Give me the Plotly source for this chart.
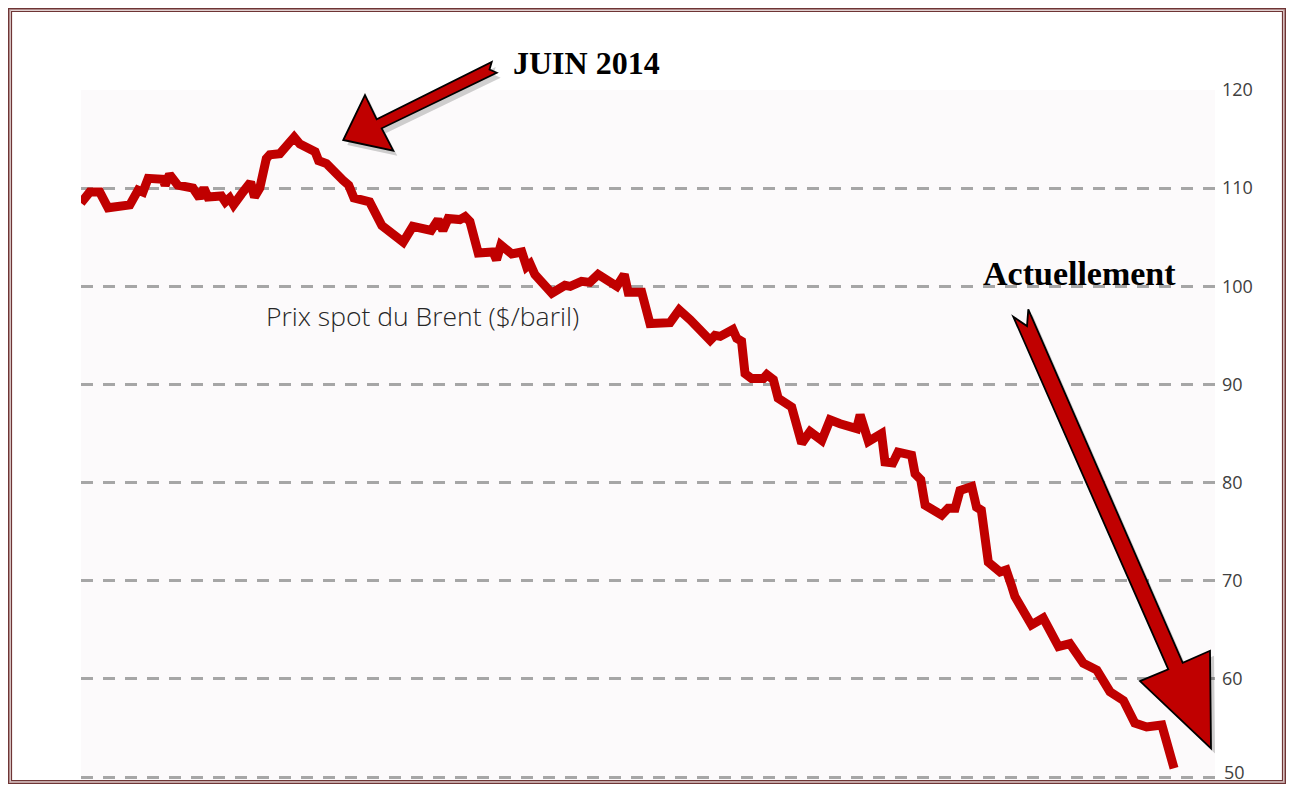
import plotly.graph_objects as go

# Jours depuis le début de la période (≈ 1er mai 2014) et prix spot du Brent ($/baril)
jours = [0, 2.0, 4.3, 6.2, 11.2, 13.1, 14.2, 15.4, 18.8, 19.3, 20.3, 22.2, 25.7, 27.2, 28.2, 29.1,
         32.2, 33.1, 34.1, 35.0, 36.8, 38.9, 39.8, 41.0, 42.5, 43.3, 45.6, 47.5, 48.9, 50.2,
         52.8, 53.7, 54.5, 56.3, 60.1, 61.4, 62.6, 66.2, 69.0, 73.9, 76.1, 80.3, 81.9, 83.0,
         84.2, 86.9, 88.1, 89.2, 91.1, 94.5, 95.3, 96.3, 98.8, 101.1, 102.2, 103.0, 104.1,
         108.0, 111.0, 112.2, 114.8, 116.7, 118.6, 122.9, 124.6, 125.5, 128.6, 130.5, 135.1,
         137.2, 139.7, 144.3, 145.4, 146.6, 149.5, 150.4, 151.5, 152.3, 153.8, 156.5, 157.3,
         158.8, 159.9, 163.0, 165.3, 167.2, 169.9, 171.8, 174.1, 177.9, 178.7, 180.6, 183.6,
         184.4, 186.2, 187.4, 190.5, 191.3, 192.6, 193.6, 197.4, 198.9, 200.5, 201.6, 204.3,
         205.4, 206.5, 208.1, 210.8, 212.2, 213.5, 214.2, 218.0, 220.7, 224.2, 226.8, 229.9,
         233.0, 236.0, 239.1, 241.7, 244.4, 247.9, 250.7]
prix = [108.5, 109.6, 109.6, 108.0, 108.3, 109.8, 109.6, 111.0, 110.9, 110.3, 111.4, 110.3,
        110.0, 109.0, 110.0, 109.1, 109.2, 108.6, 109.0, 108.3, 109.4, 110.6, 109.1, 110.0,
        113.0, 113.4, 113.5, 114.4, 115.2, 114.5, 113.7, 113.7, 112.8, 112.5, 110.8, 110.3,
        109.0, 108.6, 106.2, 104.5, 106.1, 105.7, 106.8, 105.7, 106.9, 106.8, 107.1, 106.6,
        103.4, 103.5, 102.7, 104.2, 103.3, 103.5, 102.0, 102.3, 101.2, 99.3, 100.1, 100.0,
        100.5, 100.4, 101.2, 100.0, 101.2, 99.4, 99.4, 96.2, 96.3, 97.6, 96.6, 94.5, 95.0,
        94.9, 95.6, 94.7, 94.4, 91.1, 90.6, 90.6, 91.0, 90.5, 88.6, 87.7, 84.0, 85.2, 84.3,
        86.4, 86.0, 85.5, 86.9, 84.2, 85.0, 82.1, 82.0, 83.1, 82.8, 80.9, 80.3, 77.7, 76.7,
        77.4, 77.4, 79.2, 79.6, 77.5, 77.2, 71.9, 70.9, 71.1, 69.4, 68.4, 65.5, 66.2, 63.3,
        63.6, 61.6, 60.9, 58.7, 57.8, 55.5, 55.1, 55.3, 50.9]

y_ticks = [50, 60, 70, 80, 90, 100, 110, 120]
serie_nom = "Prix spot du Brent ($/baril)"
note_pic = "JUIN 2014"
note_fin = "Actuellement"

OFF = 8  # page body margin in the browser (all sides)
SW, SH = 1294, 792  # screen size
W, H = SW - 2 * OFF, SH - 2 * OFF
PXU = 687 / 70.0  # pixels per $ on the y axis
Y0, Y1 = 49.5, 120.0
L, R, T = 81, 1215, 90  # plot area in screen pixels
B = T + (Y1 - Y0) * PXU
TICKFONT = dict(family="Open Sans", size=18, color="#404040")


def P(px, py):
    return ((px - L) / (R - L), (B - py) / (B - T))


def path(pts, dx=0, dy=0):
    s = []
    for i, (px, py) in enumerate(pts):
        x, y = P(px + dx, py + dy)
        s.append(("M" if i == 0 else "L") + f" {x:.5f},{y:.5f}")
    return " ".join(s) + " Z"


arrow1 = [(343.3, 140), (365, 95), (376.7, 119.3), (491.7, 62), (489.5, 69.5),
          (496.7, 72.7), (381.7, 128.3), (393.3, 150.7)]
arrow2 = [(1013.3, 316.7), (1027, 326), (1028.3, 309.3), (1182.7, 662.7), (1210, 650.7),
          (1211, 748.3), (1140, 681), (1168.3, 669.3)]

fig = go.Figure()
fig.add_trace(go.Scatter(
    x=jours, y=prix, mode="lines", name=serie_nom,
    line=dict(color="#C00000", width=9, shape="linear"),
    hoverinfo="x+y", showlegend=False,
))

shapes = []
# frame (double border) — kept inside the drawable figure area
x0, y0 = P(OFF + 1, OFF + 1)
x1, y1 = P(SW - OFF - 1, SH - OFF - 1)
shapes.append(dict(type="rect", xref="paper", yref="paper", x0=x0, y0=y1, x1=x1, y1=y0,
                   line=dict(color="#C4A4A4", width=3), layer="above"))
x0, y0 = P(OFF + 0.6, OFF + 0.6)
x1, y1 = P(SW - OFF - 0.6, SH - OFF - 0.6)
shapes.append(dict(type="rect", xref="paper", yref="paper", x0=x0, y0=y1, x1=x1, y1=y0,
                   line=dict(color="#6E3535", width=1.2), layer="above"))
x0, y0 = P(OFF + 3.5, OFF + 3.5)
x1, y1 = P(SW - OFF - 3.5, SH - OFF - 3.5)
shapes.append(dict(type="rect", xref="paper", yref="paper", x0=x0, y0=y1, x1=x1, y1=y0,
                   line=dict(color="#6E3535", width=1.2), layer="above"))
# arrow shadows
for a in (arrow1, arrow2):
    shapes.append(dict(type="path", xref="paper", yref="paper", path=path(a, 4, 5),
                       fillcolor="rgba(0,0,0,0.18)", line=dict(width=0), layer="above"))
# arrows
for a in (arrow1, arrow2):
    shapes.append(dict(type="path", xref="paper", yref="paper", path=path(a),
                       fillcolor="#C00000", line=dict(color="#000000", width=1.8), layer="above"))

ann = []
px, py = P(586.5, 63)
ann.append(dict(x=px, y=py, xref="paper", yref="paper", text="<b>" + note_pic + "</b>",
                xanchor="center", yanchor="middle",
                showarrow=False, font=dict(family="Liberation Serif", size=32, color="#000000")))
px, py = P(1079, 273)
ann.append(dict(x=px, y=py, xref="paper", yref="paper", text="<b>" + note_fin + "</b>",
                xanchor="center", yanchor="middle",
                showarrow=False, font=dict(family="Liberation Serif", size=34, color="#000000")))
px, py = P(422, 316)
ann.append(dict(x=px, y=py, xref="paper", yref="paper", text=serie_nom,
                xanchor="center", yanchor="middle",
                showarrow=False, font=dict(family="Open Sans", size=26.5, color="#262626", weight=300)))
# lowest tick label: the axis would hide it (it touches the page edge), so it is
# placed as text at the y-axis value, nudged to stay inside the page
ann.append(dict(x=1, y=y_ticks[0], xref="paper", yref="y", text=str(y_ticks[0]),
                xanchor="left", yanchor="middle", xshift=7, yshift=5,
                showarrow=False, font=TICKFONT))

fig.update_layout(
    width=W, height=H,
    margin=dict(l=L - OFF, r=(SW - OFF) - R, t=T - OFF, b=(SH - OFF) - B, pad=0),
    paper_bgcolor="#FFFFFF",
    plot_bgcolor="#FCFAFB",
    showlegend=False,
    shapes=shapes,
    annotations=ann,
    xaxis=dict(visible=False, range=[0, (R - L) / 4.36], showgrid=False, zeroline=False),
    yaxis=dict(side="right", range=[Y0, Y1], tickvals=y_ticks,
               ticktext=[str(v) for v in y_ticks],
               showgrid=True, gridcolor="#A6A6A6", gridwidth=2.5, griddash="12px,10px",
               zeroline=False, showline=False, ticks="", ticklabelstandoff=6,
               tickfont=TICKFONT),
)

fig.write_html("out.html")
